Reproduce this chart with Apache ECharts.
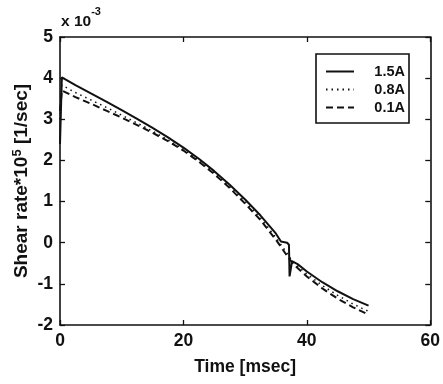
<!DOCTYPE html>
<html>
<head>
<meta charset="utf-8">
<script src="https://cdn.jsdelivr.net/npm/echarts@6/dist/echarts.min.js"></script>
<style>
html,body{margin:0;padding:0;background:#fff;}
#chart{width:443px;height:384px;}
</style>
</head>
<body>
<div id="chart"></div>
<script>
// Shear rate (x 10^-3) versus time for three current levels
const seriesNames = ['1.5A', '0.8A', '0.1A'];

const time15 = [0, 0.3, 2.5, 5, 7.5, 10, 12.5, 15, 17.5, 20, 22.5, 25, 27.5, 30, 32.5, 35, 35.8, 36.8, 37.1, 37.2, 37.6, 38.5, 40, 42.5, 45, 47.5, 50];
const rate15 = [2.4, 4.02, 3.83, 3.63, 3.43, 3.22, 3.01, 2.79, 2.56, 2.31, 2.04, 1.74, 1.41, 1.05, 0.66, 0.22, 0.03, 0.0, -0.05, -0.82, -0.45, -0.52, -0.7, -0.96, -1.18, -1.37, -1.53];

const time08 = [0, 0.3, 2.5, 5, 7.5, 10, 12.5, 15, 17.5, 20, 22.5, 25, 27.5, 30, 32.5, 35, 37, 37.5, 38, 40, 42.5, 45, 47.5, 50];
const rate08 = [3.0, 3.83, 3.65, 3.47, 3.29, 3.1, 2.91, 2.71, 2.5, 2.27, 2.0, 1.7, 1.37, 1.0, 0.6, 0.12, -0.3, -0.42, -0.5, -0.76, -1.04, -1.28, -1.49, -1.67];

const time01 = [0, 0.3, 2.5, 5, 7.5, 10, 12.5, 15, 17.5, 20, 22.5, 25, 27.5, 30, 32.5, 35, 37, 37.5, 38, 40, 42.5, 45, 47.5, 50];
const rate01 = [3.2, 3.7, 3.54, 3.38, 3.21, 3.04, 2.86, 2.67, 2.47, 2.24, 1.97, 1.67, 1.33, 0.95, 0.55, 0.07, -0.36, -0.46, -0.55, -0.82, -1.11, -1.36, -1.57, -1.75];

const xTicks = [0, 20, 40, 60];
const yTicks = [-2, -1, 0, 1, 2, 3, 4, 5];

const pairs = (t, v) => t.map((x, i) => [x, v[i]]);

const FONT = '"Liberation Sans", Arial, sans-serif';
const INK = '#111';
const SIZE = 17.5;
const YNAME_SIZE = 19;

const chart = echarts.init(document.getElementById('chart'), null, {renderer: 'canvas'});

const frameAxis = {
  axisLine: {show: true, onZero: false, lineStyle: {color: INK, width: 1.6}},
  axisTick: {show: true, inside: true, length: 5, lineStyle: {color: INK, width: 1.3}},
  splitLine: {show: false}
};

const tickText = {fontFamily: FONT, fontSize: SIZE, fontWeight: 'bold', color: INK, margin: 7};

chart.setOption({
  animation: false,
  backgroundColor: '#fff',
  grid: {left: 60, right: 11, top: 37, bottom: 59},
  xAxis: [
    Object.assign({
      type: 'value', position: 'bottom',
      min: xTicks[0], max: xTicks[xTicks.length - 1], interval: 20,
      name: 'Time [msec]', nameLocation: 'middle', nameGap: 33,
      nameMoveOverlap: false,
      nameTextStyle: {fontFamily: FONT, fontSize: SIZE, fontWeight: 'bold', color: INK},
      axisLabel: tickText
    }, frameAxis),
    Object.assign({
      type: 'value', position: 'top',
      min: xTicks[0], max: xTicks[xTicks.length - 1], interval: 20,
      axisLabel: {show: false}
    }, frameAxis)
  ],
  yAxis: [
    Object.assign({
      type: 'value', position: 'left',
      min: yTicks[0], max: yTicks[yTicks.length - 1], interval: 1,
      name: '{n|Shear rate*10}{s|5}{n| [1/sec]}', nameLocation: 'middle', nameGap: 27,
      nameMoveOverlap: false,
      nameRotate: 90,
      nameTextStyle: {
        fontFamily: FONT, fontSize: YNAME_SIZE, fontWeight: 'bold', color: INK,
        rich: {
          n: {fontFamily: FONT, fontSize: YNAME_SIZE, fontWeight: 'bold', color: INK},
          s: {fontFamily: FONT, fontSize: 13, fontWeight: 'bold', color: INK, verticalAlign: 'top', padding: [0, 0, 9, 0]}
        }
      },
      axisLabel: tickText
    }, frameAxis),
    Object.assign({
      type: 'value', position: 'right',
      min: yTicks[0], max: yTicks[yTicks.length - 1], interval: 1,
      axisLabel: {show: false}
    }, frameAxis)
  ],
  legend: {
    orient: 'vertical',
    left: 316, top: 54,
    padding: [10, 4, 8, 9],
    itemWidth: 28, itemHeight: 12, itemGap: 3,
    borderColor: INK, borderWidth: 1.6,
    backgroundColor: '#fff',
    data: seriesNames,
    itemStyle: {opacity: 0},
    formatter: name => '{t|' + name + '}',
    textStyle: {
      color: INK,
      rich: {t: {fontFamily: FONT, fontSize: 14.5, fontWeight: 'bold', color: INK, width: 46, align: 'right'}}
    }
  },
  graphic: [{
    type: 'text', left: 61, top: 6, silent: true,
    style: {
      text: '{n|x 10}{s|-3}',
      rich: {
        n: {fontFamily: FONT, fontSize: 15.5, fontWeight: 'bold', fill: INK, padding: [8, 0, 0, 0]},
        s: {fontFamily: FONT, fontSize: 11, fontWeight: 'bold', fill: INK, verticalAlign: 'top'}
      }
    }
  }],
  series: [
    {
      name: seriesNames[0], type: 'line', showSymbol: false, symbol: 'none',
      data: pairs(time15, rate15),
      lineStyle: {color: INK, width: 2, type: 'solid'},
      itemStyle: {color: INK}
    },
    {
      name: seriesNames[1], type: 'line', showSymbol: false, symbol: 'none',
      data: pairs(time08, rate08),
      lineStyle: {color: INK, width: 1.5, type: [1.5, 4]},
      itemStyle: {color: INK}
    },
    {
      name: seriesNames[2], type: 'line', showSymbol: false, symbol: 'none',
      data: pairs(time01, rate01),
      lineStyle: {color: INK, width: 2, type: [7, 4]},
      itemStyle: {color: INK}
    }
  ]
});
</script>
</body>
</html>
